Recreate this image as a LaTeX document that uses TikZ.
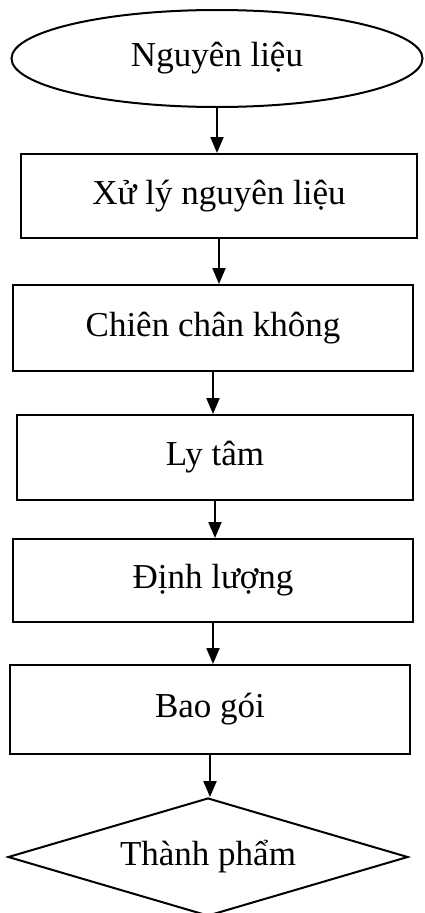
\documentclass[tikz,border=0pt]{standalone}
\usepackage{fontspec}
\setmainfont{Liberation Serif}
\usetikzlibrary{shapes.geometric,arrows.meta}
\begin{document}
\begin{tikzpicture}[x=1pt,y=1pt,
  every node/.style={font=\fontsize{35}{40}\selectfont, inner sep=0pt, line width=2pt, draw=black},
  stepbox/.style={rectangle, minimum width=400pt},
  flow/.style={line width=2pt, -{Triangle[width=13pt,length=16pt]}}]
\useasboundingbox (0,0) rectangle (424,-913);
\fill[white] (0,0) rectangle (424,-913);
\node[ellipse, minimum width=411pt, minimum height=97pt] (e) at (217,-58.5) {Nguyên liệu};
\node[stepbox, minimum width=396pt, minimum height=84pt] (b1) at (219,-196) {Xử lý nguyên liệu};
\node[stepbox, minimum height=86pt] (b2) at (213,-328) {Chiên chân không};
\node[stepbox, minimum width=396pt, minimum height=85pt] (b3) at (215,-457.5) {Ly tâm};
\node[stepbox, minimum height=83pt] (b4) at (213,-580.5) {Định lượng};
\node[stepbox, minimum height=89pt] (b5) at (210,-709.5) {Bao gói};
\node[diamond, aspect=3.4, minimum width=400pt, minimum height=118pt] (d) at (208,-857) {Thành phẩm};
\draw[flow] (e.south) -- (e.south |- b1.north);
\draw[flow] (b1.south) -- (b1.south |- b2.north);
\draw[flow] (b2.south) -- (b2.south |- b3.north);
\draw[flow] (b3.south) -- (b3.south |- b4.north);
\draw[flow] (b4.south) -- (b4.south |- b5.north);
\draw[flow] (b5.south) -- (b5.south |- d.north);
\end{tikzpicture}
\end{document}
